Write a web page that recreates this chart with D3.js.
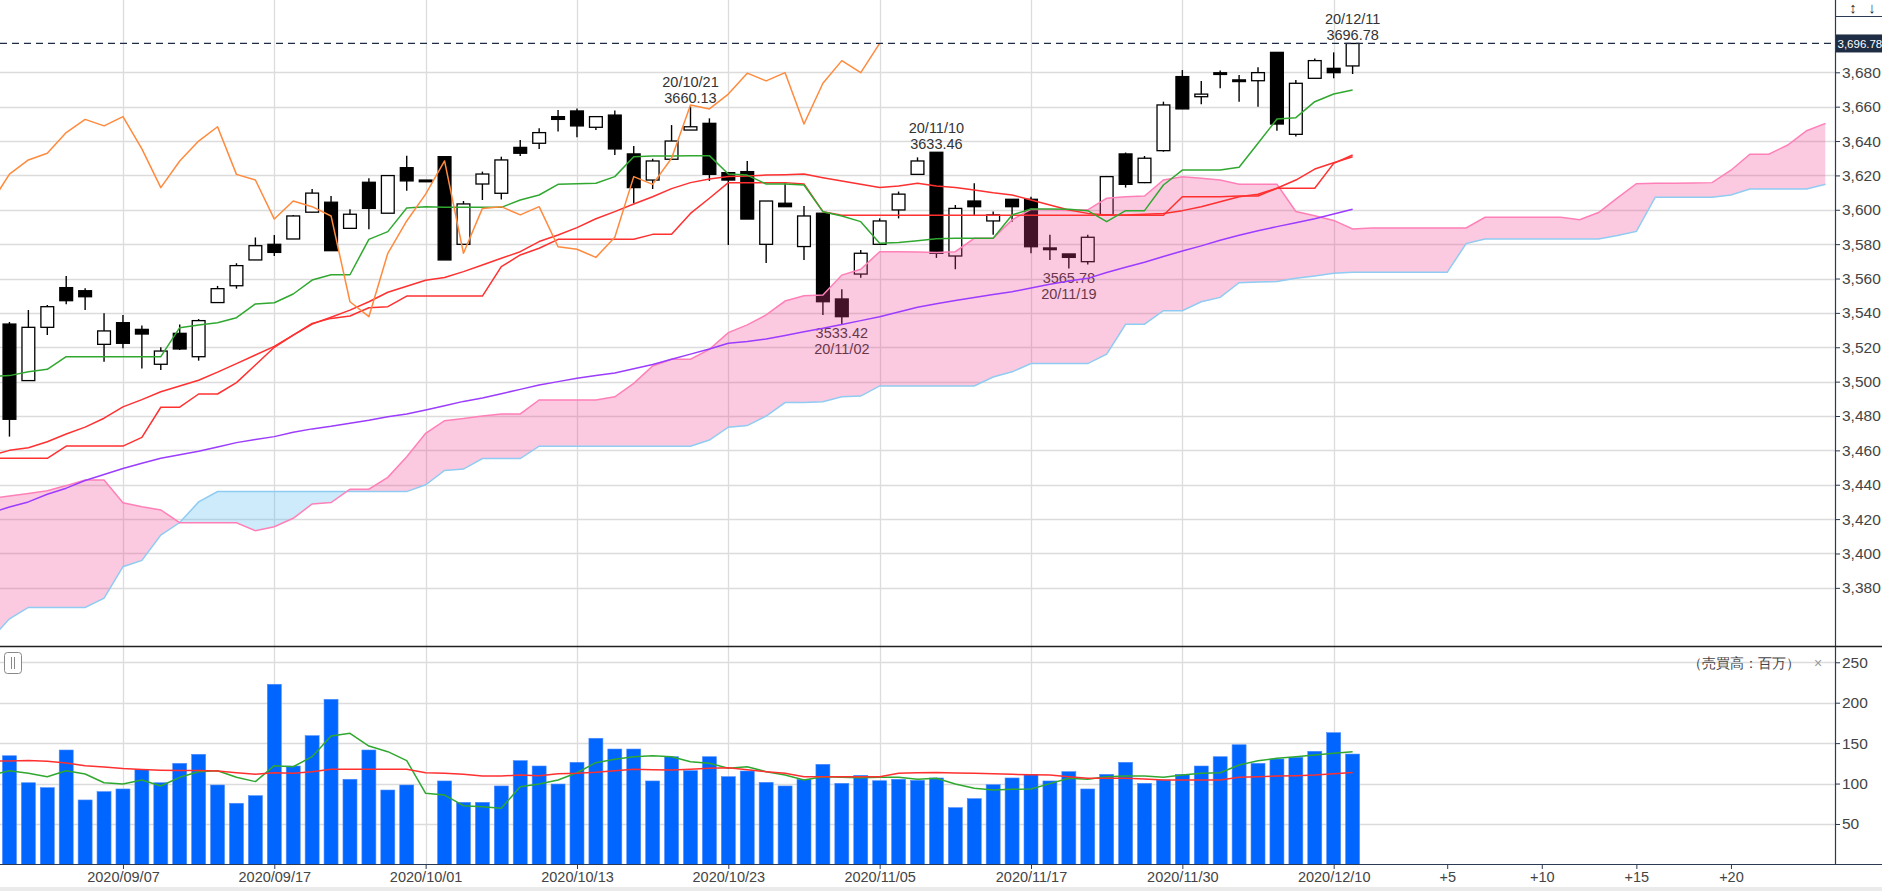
<!DOCTYPE html>
<html><head><meta charset="utf-8">
<script src="https://cdn.jsdelivr.net/npm/d3@7"></script>
<style>
html,body{margin:0;padding:0;background:#fff;overflow:hidden}
text{font-family:"Liberation Sans",Arial,sans-serif}
</style>
</head><body>
<svg id="c" width="1882" height="891"></svg>
<script>
// ---------------- DATA ----------------
const dates = ["2020/08/28","2020/08/31","2020/09/01","2020/09/02","2020/09/03","2020/09/04","2020/09/07","2020/09/08","2020/09/09","2020/09/10",
"2020/09/11","2020/09/14","2020/09/15","2020/09/16","2020/09/17","2020/09/18","2020/09/23","2020/09/24","2020/09/25","2020/09/28",
"2020/09/29","2020/09/30","2020/10/01","2020/10/02","2020/10/05","2020/10/06","2020/10/07","2020/10/08","2020/10/09","2020/10/12",
"2020/10/13","2020/10/14","2020/10/15","2020/10/16","2020/10/19","2020/10/20","2020/10/21","2020/10/22","2020/10/23","2020/10/26",
"2020/10/27","2020/10/28","2020/10/29","2020/10/30","2020/11/02","2020/11/04","2020/11/05","2020/11/06","2020/11/09","2020/11/10",
"2020/11/11","2020/11/12","2020/11/13","2020/11/16","2020/11/17","2020/11/18","2020/11/19","2020/11/20","2020/11/24","2020/11/25",
"2020/11/26","2020/11/27","2020/11/30","2020/12/01","2020/12/02","2020/12/03","2020/12/04","2020/12/07","2020/12/08","2020/12/09",
"2020/12/10","2020/12/11"];

const open  = [3533.5,3500.6,3531.6,3554.7,3552.9,3521.7,3534.3,3530.4,3510.1,3528.1,
3514.5,3546.0,3555.8,3570.8,3579.9,3583.0,3598.6,3604.4,3589.2,3616.0,
3598.0,3624.5,3616.8,3630.9,3579.9,3615.0,3609.6,3636.3,3638.7,3654.2,
3657.5,3648.0,3655.1,3632.5,3617.3,3629.4,3646.4,3650.3,3621.6,3622.2,
3579.9,3603.8,3578.6,3598.0,3548.1,3562.6,3579.9,3599.9,3620.6,3633.46,
3573.1,3605.1,3593.5,3606.1,3606.1,3577.6,3574.3,3569.8,3597.0,3632.5,
3615.8,3634.4,3677.5,3665.8,3679.0,3675.2,3675.1,3691.6,3643.9,3676.5,
3682.3,3683.7];
const high  = [3534.7,3541.7,3544.6,3561.5,3554.3,3539.8,3538.8,3532.6,3520.0,3533.3,
3536.4,3555.7,3568.9,3583.9,3585.3,3597.0,3612.1,3608.0,3600.3,3618.3,
3620.0,3631.5,3616.8,3631.0,3605.1,3622.2,3630.9,3640.6,3647.4,3658.0,
3659.0,3654.2,3657.7,3637.1,3629.7,3649.3,3660.13,3653.2,3622.0,3628.4,
3605.1,3615.4,3602.2,3598.0,3553.7,3576.6,3595.0,3610.6,3630.5,3633.46,
3602.8,3615.4,3599.0,3606.1,3607.6,3585.4,3574.3,3585.4,3619.7,3633.3,
3631.3,3662.9,3681.3,3674.9,3681.0,3678.4,3682.9,3691.6,3675.5,3688.1,
3691.6,3696.78];
const low   = [3468.0,3500.6,3527.1,3545.0,3541.7,3511.6,3519.4,3507.7,3506.8,3518.4,
3512.2,3546.0,3554.1,3570.8,3573.1,3583.0,3598.6,3576.0,3589.2,3588.6,
3598.0,3611.1,3616.8,3570.8,3579.9,3605.7,3606.0,3631.3,3635.4,3645.5,
3642.2,3646.4,3631.9,3603.8,3612.1,3629.4,3646.4,3616.8,3579.5,3594.6,
3569.0,3601.8,3570.8,3538.8,3533.42,3560.5,3579.9,3595.0,3620.6,3572.0,
3565.4,3596.9,3585.4,3593.1,3574.7,3570.8,3565.78,3568.2,3597.0,3612.9,
3615.5,3633.8,3658.7,3661.4,3670.7,3662.9,3660.0,3646.0,3642.6,3676.5,
3676.5,3679.0];
const close = [3478.1,3531.6,3543.6,3547.1,3549.4,3529.5,3522.3,3527.7,3517.8,3519.0,
3535.5,3554.1,3567.5,3579.1,3575.2,3596.4,3609.7,3576.2,3597.4,3600.8,
3619.9,3616.8,3616.8,3570.8,3603.4,3620.8,3629.0,3632.9,3644.9,3652.6,
3648.8,3654.2,3635.4,3612.9,3628.4,3640.0,3648.3,3620.6,3617.3,3594.6,
3605.1,3601.8,3596.4,3546.5,3537.8,3574.7,3593.5,3609.1,3628.4,3574.7,
3600.8,3601.8,3597.0,3601.8,3578.5,3577.0,3572.3,3584.0,3619.3,3614.8,
3630.0,3661.0,3658.7,3667.3,3679.5,3675.0,3679.8,3649.9,3673.6,3686.8,
3679.8,3696.78];

// line series below start at bar index -1 (the bar just left of the visible area)
const SERIES_START = -1;
const tenkan = [3503,3503.5,3505.8,3507.2,3514.5,3514.5,3514.5,3514.5,3514.5,3514.5,
3531.4,3533,3534.3,3537.2,3545.2,3545.9,3551,3559.1,3562.2,3562.2,
3582.8,3587.3,3601,3601.8,3601.4,3601.4,3601.4,3601.4,3605.7,3608.6,
3614.8,3615.2,3615.4,3619.3,3630.9,3631.3,3631.3,3631.5,3631.5,3620.8,
3620.2,3615,3615,3614.4,3598.9,3596.4,3593.1,3580.5,3580.9,3582,
3583.2,3583.4,3583.4,3583.4,3597,3600.5,3600.5,3600.3,3599.5,3593.1,
3599.5,3599.5,3614.4,3623.1,3623.1,3623.1,3624.7,3638.7,3652.8,3653.6,
3662.9,3667.4,3669.7];
const kijun = [3455.4,3455.4,3455.4,3455.4,3462.5,3462.5,3462.5,3462.5,3467.6,3485.1,
3485.1,3492.8,3492.8,3499.4,3509.7,3520,3527,3533.9,3536.8,3538.2,
3543,3543.6,3549.8,3549.8,3549.8,3549.8,3549.8,3566.9,3573.7,3577.6,
3582.8,3582.8,3582.8,3582.8,3582.8,3585.7,3585.7,3597.9,3606.7,3615.8,
3615.8,3615.8,3615.8,3615,3598.9,3596.8,3596.8,3596.8,3596.8,3596.8,
3596.8,3596.8,3596.8,3596.8,3596.8,3596.8,3596.8,3596.8,3596.8,3596.8,
3596.8,3596.8,3596.8,3607.6,3607.6,3607.6,3608,3608,3612.5,3612.5,
3612.5,3627,3631.9];
const ma25 = [3457,3460,3461.5,3465,3469.5,3473.5,3478.7,3485.3,3489.5,3494.1,
3497.5,3500.8,3505.5,3510.5,3515.5,3520.5,3527,3533.5,3537.5,3541.6,
3546.5,3552,3555.5,3559,3560.6,3564,3567.9,3571.8,3575.6,3581.5,
3585.3,3589.6,3594.8,3598.9,3603.4,3607.6,3612.3,3615.8,3617.9,3619.3,
3619.7,3620.2,3620.4,3620.8,3618.7,3616.7,3614.8,3613,3613.8,3615.4,
3613.8,3613,3611.5,3609.9,3608.6,3605.7,3602.8,3599.9,3597.9,3597,
3597,3597.4,3597.9,3599.5,3601.8,3604.7,3607.6,3609,3612.5,3617.3,
3623.7,3627.4,3630.9];
const ma75 = [3423.5,3427,3430,3434.5,3438,3442.5,3446,3449.5,3452.5,3455.4,
3457.5,3459.5,3462,3464.5,3466.3,3468,3470.5,3472.5,3474,3475.8,
3477.5,3479.5,3481.2,3483.5,3486,3488.5,3490.5,3493,3495.5,3498,
3500,3502,3503.5,3505,3507.5,3510,3513,3516,3519,3522.3,
3523.3,3524.8,3526.8,3529,3531,3533.3,3535.5,3537.8,3540.5,3543.3,
3545.3,3547.2,3549,3550.7,3552.3,3554.5,3556.7,3558.5,3560.1,3563.5,
3566.6,3569.5,3572.8,3576,3579,3582.3,3585.2,3587.8,3590.2,3592.5,
3594.8,3597.5,3600.3];
const chikou = [3603.4,3620.8,3629,3632.9,3644.9,3652.6,3648.8,3654.2,3635.4,3612.9,
3628.4,3640,3648.3,3620.6,3617.3,3594.6,3605.1,3601.8,3596.4,3546.5,
3537.8,3574.7,3593.5,3609.1,3628.4,3574.7,3600.8,3601.8,3597,3601.8,
3578.5,3577,3572.3,3584,3619.3,3614.8,3630,3661,3658.7,3667.3,
3679.5,3675,3679.8,3649.9,3673.6,3686.8,3679.8,3696.78];
const senkouA = [3432,3433.4,3434.9,3436.5,3439.5,3442.8,3442.8,3429.5,3427.2,3425.3,
3417.9,3417.9,3417.9,3417.9,3413.3,3415.6,3420.5,3428.8,3429.6,3437.4,
3437.4,3444.3,3456.3,3469.9,3477.3,3478.5,3480,3481.2,3481.2,3489.3,
3489.3,3489.3,3489.3,3491.2,3499,3509.1,3513,3513,3518.8,3528.5,
3533,3538.8,3546.9,3550,3550.4,3562,3565.4,3575.6,3575.6,3575.4,
3575.2,3575.6,3583.4,3583.4,3594.1,3600.3,3600,3599.6,3600,3606.7,
3607.6,3608,3617.3,3619.2,3618.3,3617.3,3614.8,3614.8,3614.8,3599,
3596.5,3593.8,3588.8,3589.4,3589.4,3589.4,3589.4,3589.4,3589.4,3595.6,
3595.6,3595.6,3595.6,3595.6,3594.2,3598.4,3606.9,3615.2,3615.4,3615.5,
3615.6,3615.8,3623,3632.3,3632.3,3637.7,3646,3650.3];
const senkouB = [3350,3362,3368.6,3368.6,3368.6,3368.6,3374,3392.3,3396,3410.7,
3418,3430,3436,3436,3436,3436,3436,3436,3436,3436,
3436,3436,3436,3440,3448.3,3449.1,3455.2,3455.2,3455.2,3462.4,
3462.4,3462.4,3462.4,3462.4,3462.4,3462.4,3462.4,3462.4,3466,3473.5,
3474.4,3480,3487.8,3487.8,3488.3,3491.2,3491.6,3497.5,3497.5,3497.5,
3497.5,3497.5,3497.5,3502.7,3505.7,3510.5,3510.5,3510.5,3510.5,3516,
3533.4,3533.4,3541.3,3541.3,3546.5,3549,3557.6,3558,3558.2,3560.1,
3561.5,3563,3563.6,3563.6,3563.6,3563.6,3563.6,3563.6,3580.3,3583,
3583,3583,3583,3583,3583,3583,3585,3587.4,3607.3,3607.3,
3607.3,3607.3,3608.6,3612.1,3612.1,3612.1,3612.1,3614.9];

const volume = [134.4,101,94.9,141.5,79.7,90,93.3,117.6,101,125,
136.2,98.2,75.6,85,222.8,121.7,159.2,204.2,105.3,141.5,
92,98.2,0,103.2,76.8,76.8,97,128.3,121.7,99.4,
126.3,156,142.7,142.7,103.2,133.2,115.9,133.2,108.5,115.5,
101.5,97,105.3,123.8,100.3,110.2,103.5,105.3,104,106.9,
70.2,81.3,98.6,106.9,111,103.2,114.7,93.3,111.4,126.3,
100.3,104.4,111.4,121.7,133.2,148,125,130.4,132.5,139.9,
162.9,136.5];
const volMaShort = [110,115.9,112.7,108.5,115.9,111.8,101,99.4,104.4,97,
107.7,114.7,115.9,107.7,102.4,122.1,120.8,133.2,158.8,162.1,
146.4,139.4,128.3,87.9,85.8,72.6,71.4,69.4,96.1,99.4,
104.4,113.4,125.8,130,133.2,134.4,133.2,127,125,118.9,
120.8,114.7,110.6,104.4,108.5,107.7,107.3,107.7,107.7,105.3,
106.5,99.4,94.1,92,92.8,93.3,99.9,106.5,105.3,108.5,
109.3,109.3,107.7,110.6,112.7,113.4,122.9,128.3,131.2,133.2,
135.3,137.4,139.4];
const volMaLong = [128,128,128.5,127.5,125.5,122,120.5,118.5,117.5,116.5,
116,116,115.5,113.5,111.5,113.4,112.8,114.5,117.6,117.6,
117.6,117.6,117.6,113.4,112.7,111.5,109.3,109.3,110.6,109.5,
112.1,112.7,114,115.9,117.6,117.2,116.8,117.6,118.9,119.6,
117,114.7,112.7,108.5,108.5,108.5,108.5,108.5,112.7,113.5,
113.8,113,112.7,112,111.4,111,110.6,108.5,106.5,106.5,
106.5,105.5,104.4,104.4,104.4,104.4,107.7,108.5,109.3,109.8,
110.6,112,113.8];

const priceTicks = [3380,3400,3420,3440,3460,3480,3500,3520,3540,3560,3580,3600,3620,3640,3660,3680];
const volumeTicks = [50,100,150,200,250];
const dateTickIndex = [6,14,22,30,38,46,54,62,70];
const futureTickOffsets = [5,10,15,20];
const futureTickLabels = ["+5","+10","+15","+20"];
const annotIndex = [36,44,49,56,71];
const annotSide = ["high","low","high","low","high"];
const lastPrice = 3696.78;
const lastPriceLabel = "3,696.78";
const volumeUnitLabel = "（売買高：百万）";

// ---------------- LAYOUT ----------------
const W = 1882, H = 891, plotR = 1835;
const pTop = 0, pBot = 646, vTop = 647, vBot = 864;
const lastIdx = close.length - 1;
const cloudLen = senkouA.length; // includes index -1

const svg = d3.select("#c");
svg.append("rect").attr("width", W).attr("height", H).attr("fill", "#fff");

const x = d3.scaleLinear().domain([-0.5, 96.5]).range([0, plotR]);
const y = d3.scaleLinear().domain([3346.16, 3722.07]).range([pBot, pTop]);
const yv = d3.scaleLinear().domain([0, 268.4]).range([864.4, 647.4]);

const defs = svg.append("defs");
defs.append("clipPath").attr("id", "clipP").append("rect").attr("x", 0).attr("y", pTop).attr("width", plotR).attr("height", pBot - pTop);
defs.append("clipPath").attr("id", "clipV").append("rect").attr("x", 0).attr("y", vTop).attr("width", plotR).attr("height", vBot - vTop);

const gP = svg.append("g").attr("clip-path", "url(#clipP)");
const gV = svg.append("g").attr("clip-path", "url(#clipV)");

const gridCol = "#dcdcdc";
// grids price
gP.selectAll(".hg").data(priceTicks).join("line")
  .attr("x1", 0).attr("x2", plotR).attr("y1", d => Math.round(y(d)) + 0.5).attr("y2", d => Math.round(y(d)) + 0.5)
  .attr("stroke", gridCol).attr("stroke-width", 1.3);
gP.selectAll(".vg").data(dateTickIndex).join("line")
  .attr("x1", d => Math.round(x(d)) + 0.5).attr("x2", d => Math.round(x(d)) + 0.5).attr("y1", pTop).attr("y2", pBot)
  .attr("stroke", gridCol).attr("stroke-width", 1.3);
// grids volume
gV.selectAll(".hg").data(volumeTicks).join("line")
  .attr("x1", 0).attr("x2", plotR).attr("y1", d => Math.round(yv(d)) + 0.5).attr("y2", d => Math.round(yv(d)) + 0.5)
  .attr("stroke", gridCol).attr("stroke-width", 1.3);
gV.selectAll(".vg").data(dateTickIndex).join("line")
  .attr("x1", d => Math.round(x(d)) + 0.5).attr("x2", d => Math.round(x(d)) + 0.5).attr("y1", vTop).attr("y2", vBot)
  .attr("stroke", gridCol).attr("stroke-width", 1.3);

// candles
const bars = d3.range(close.length);
const bw = 14;
const gC = gP.append("g");
bars.forEach(i => {
  const cx = x(i);
  gC.append("line").attr("x1", cx).attr("x2", cx).attr("y1", y(high[i])).attr("y2", y(low[i]))
    .attr("stroke", "#000").attr("stroke-width", 1.4);
  const top = y(Math.max(open[i], close[i])), bot = y(Math.min(open[i], close[i]));
  if (bot - top < 2) {
    gC.append("rect").attr("x", cx - bw / 2).attr("width", bw).attr("y", (top + bot) / 2 - 1.5).attr("height", 3)
      .attr("fill", "#000");
  } else {
    gC.append("rect").attr("x", cx - bw / 2 + 0.6).attr("width", bw - 1.2).attr("y", top).attr("height", bot - top)
      .attr("fill", close[i] < open[i] ? "#000" : "#fff").attr("stroke", "#000").attr("stroke-width", 1.3);
  }
});

// annotations
const fmtDate = s => s.slice(2);
annotIndex.forEach((i, k) => {
  const cx = x(i);
  const t = gP.append("text").attr("text-anchor", "middle").attr("font-size", 14.5).attr("fill", "#333");
  if (annotSide[k] === "high") {
    const yy = y(high[i]);
    t.append("tspan").attr("x", cx).attr("y", yy - 19).text(fmtDate(dates[i]));
    t.append("tspan").attr("x", cx).attr("y", yy - 3).text(high[i].toFixed(2));
  } else {
    const yy = y(low[i]);
    t.append("tspan").attr("x", cx).attr("y", yy + 14).text(low[i].toFixed(2));
    t.append("tspan").attr("x", cx).attr("y", yy + 30).text(fmtDate(dates[i]));
  }
});

// cloud
const cloudIdx = d3.range(cloudLen).map(k => k + SERIES_START);
const areaAboveB = d3.area().x(k => x(k)).y0(pTop - 10).y1((k, j) => y(senkouB[j]));
const areaAboveA = d3.area().x(k => x(k)).y0(pTop - 10).y1((k, j) => y(senkouA[j]));
const areaBelowA = d3.area().x(k => x(k)).y0(pBot + 10).y1((k, j) => y(senkouA[j]));
const areaBelowB = d3.area().x(k => x(k)).y0(pBot + 10).y1((k, j) => y(senkouB[j]));
defs.append("clipPath").attr("id", "belowA").append("path").attr("d", areaBelowA(cloudIdx));
defs.append("clipPath").attr("id", "belowB").append("path").attr("d", areaBelowB(cloudIdx));
gP.append("path").attr("d", areaAboveB(cloudIdx)).attr("clip-path", "url(#belowA)")
  .attr("fill", "#f54191").attr("fill-opacity", 0.28);
gP.append("path").attr("d", areaAboveA(cloudIdx)).attr("clip-path", "url(#belowB)")
  .attr("fill", "#5bbcf0").attr("fill-opacity", 0.3);
const cloudLine = arr => d3.line().x((v, j) => x(j + SERIES_START)).y(v => y(v))(arr);
gP.append("path").attr("d", cloudLine(senkouB)).attr("fill", "none").attr("stroke", "#8fcbf2").attr("stroke-width", 1.5);
gP.append("path").attr("d", cloudLine(senkouA)).attr("fill", "none").attr("stroke", "#ff80b8").attr("stroke-width", 1.5);

// indicator lines
const seriesLine = (arr, yscale) => d3.line().x((v, j) => x(j + SERIES_START)).y(v => yscale(v))(arr);
const addLine = (g, arr, col, yscale, w) => g.append("path").attr("d", seriesLine(arr, yscale))
  .attr("fill", "none").attr("stroke", col).attr("stroke-width", w || 1.5).attr("stroke-linejoin", "round");
addLine(gP, ma75, "#9b3cff", y);
addLine(gP, ma25, "#ff3030", y);
addLine(gP, kijun, "#ff3030", y);
addLine(gP, tenkan, "#30a830", y);
addLine(gP, chikou, "#ff8a3d", y);

// last price dashed line
gP.append("line").attr("x1", 0).attr("x2", plotR).attr("y1", y(lastPrice)).attr("y2", y(lastPrice))
  .attr("stroke", "#1f2d44").attr("stroke-width", 1.3).attr("stroke-dasharray", "7,5");

// volume bars
gV.selectAll(".vb").data(bars.filter(i => volume[i] > 0)).join("rect")
  .attr("x", i => x(i) - bw / 2).attr("width", bw)
  .attr("y", i => yv(volume[i])).attr("height", i => yv(0) - yv(volume[i]))
  .attr("fill", "#0066ff").attr("stroke", "#4d8cff").attr("stroke-width", 0.6);
addLine(gV, volMaShort, "#30a830", yv);
addLine(gV, volMaLong, "#ff3030", yv);

// ---------------- AXES / FRAME ----------------
const axCol = "#2b3a55";
// right axis price
const axP = svg.append("g").attr("transform", `translate(${plotR},0)`)
  .call(d3.axisRight(y).tickValues(priceTicks).tickFormat(d3.format(",")).tickSize(5).tickPadding(2));
const axV = svg.append("g").attr("transform", `translate(${plotR},0)`)
  .call(d3.axisRight(yv).tickValues(volumeTicks).tickSize(5).tickPadding(2));
[axP, axV].forEach(a => {
  a.select(".domain").remove();
  a.selectAll(".tick line").attr("stroke", axCol);
  a.selectAll(".tick text").attr("font-size", 15.5).attr("fill", "#444").attr("font-family", "Liberation Sans, Arial, sans-serif");
});
// bottom axis
const allTickIdx = dateTickIndex.concat(futureTickOffsets.map(o => lastIdx + o));
const tickLabel = k => k <= lastIdx ? dates[k] : futureTickLabels[futureTickOffsets.indexOf(k - lastIdx)];
const axX = svg.append("g").attr("transform", `translate(0,${vBot})`)
  .call(d3.axisBottom(x).tickValues(allTickIdx).tickFormat(tickLabel).tickSize(5).tickPadding(3));
axX.select(".domain").remove();
axX.selectAll(".tick line").attr("stroke", axCol);
axX.selectAll(".tick text").attr("font-size", 14.5).attr("fill", "#444").attr("font-family", "Liberation Sans, Arial, sans-serif");

// frame lines
svg.append("line").attr("x1", plotR + 0.5).attr("x2", plotR + 0.5).attr("y1", 0).attr("y2", vBot).attr("stroke", axCol).attr("stroke-width", 1.2);
svg.append("line").attr("x1", 0).attr("x2", W).attr("y1", vBot + 0.5).attr("y2", vBot + 0.5).attr("stroke", axCol).attr("stroke-width", 1.2);
svg.append("line").attr("x1", 0).attr("x2", W).attr("y1", 646.5).attr("y2", 646.5).attr("stroke", "#222").attr("stroke-width", 1.6);
svg.append("line").attr("x1", plotR).attr("x2", W).attr("y1", 16.5).attr("y2", 16.5).attr("stroke", axCol).attr("stroke-width", 1);
svg.append("rect").attr("x", 0).attr("y", 887).attr("width", W).attr("height", 4).attr("fill", "#ebebeb");

// header icons
svg.append("text").attr("x", 1853).attr("y", 13).attr("text-anchor", "middle").attr("font-size", 15)
  .attr("font-family", "DejaVu Sans").attr("font-weight", "bold").attr("fill", "#333").text("↕");
svg.append("text").attr("x", 1872).attr("y", 13).attr("text-anchor", "middle").attr("font-size", 15)
  .attr("font-family", "DejaVu Sans").attr("fill", "#333").text("↓");

// last price label
svg.append("rect").attr("x", plotR + 1).attr("y", y(lastPrice) - 9).attr("width", W - plotR - 1).attr("height", 18).attr("fill", "#1f2d44");
svg.append("text").attr("x", plotR + 2.5).attr("y", y(lastPrice) + 4.5).attr("font-size", 11.5).attr("fill", "#fff").text(lastPriceLabel);

// volume panel labels
svg.append("text").attr("x", 1800).attr("y", 668).attr("text-anchor", "end").attr("font-size", 14)
  .attr("font-family", "Noto Sans CJK JP").attr("fill", "#444").text(volumeUnitLabel);
svg.append("text").attr("x", 1818).attr("y", 668).attr("text-anchor", "middle").attr("font-size", 14).attr("fill", "#999").text("×");
// small handle icon
svg.append("rect").attr("x", 4.5).attr("y", 652.5).attr("width", 17).attr("height", 21).attr("rx", 3)
  .attr("fill", "#fff").attr("stroke", "#888");
svg.append("line").attr("x1", 11.5).attr("x2", 11.5).attr("y1", 657).attr("y2", 669).attr("stroke", "#888");
svg.append("line").attr("x1", 14.5).attr("x2", 14.5).attr("y1", 657).attr("y2", 669).attr("stroke", "#888");
</script>
</body></html>
